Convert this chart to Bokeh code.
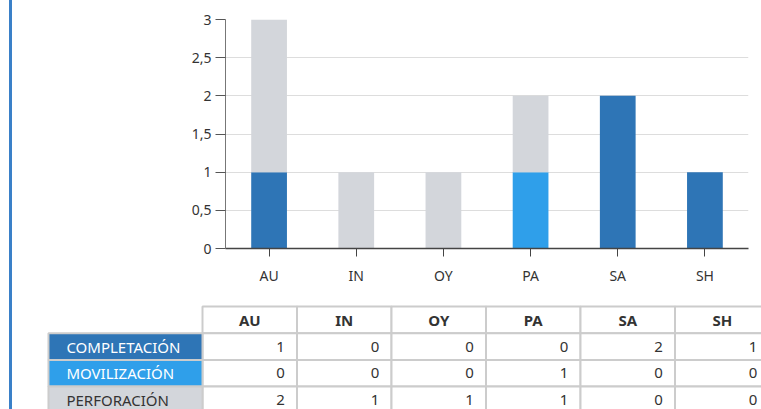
from bokeh.plotting import figure
from bokeh.layouts import row
from bokeh.models import FixedTicker, Range1d, FactorRange, ColumnDataSource, CustomJSTickFormatter, Spacer, Div
from bokeh.core.properties import value
from bokeh.embed import file_html
from bokeh.resources import INLINE

# ---- data ----
categories = ["AU", "IN", "OY", "PA", "SA", "SH"]
series_names = ["COMPLETACIÓN", "MOVILIZACIÓN", "PERFORACIÓN"]
completacion = [1, 0, 0, 0, 2, 1]
movilizacion = [0, 0, 0, 1, 0, 0]
perforacion = [2, 1, 1, 1, 0, 0]
y_ticks = [0, 0.5, 1, 1.5, 2, 2.5, 3]

colors = ["#2e75b6", "#2f9fea", "#d3d6db"]
label_text_colors = ["#ffffff", "#ffffff", "#333333"]
FONT = "Noto Sans"
GRID = "#cccccc"
EDGE = "#3a80c8"

series_values = [completacion, movilizacion, perforacion]

W = 749      # width of each figure
H1 = 295     # chart height
H2 = 114     # table height


def edge_bar(h):
    return Div(text="", width=3, height=h, margin=0,
               styles={"background-color": EDGE})


# ---- chart ----
src = ColumnDataSource(dict(cat=categories, c=completacion, m=movilizacion, p=perforacion))

p1 = figure(x_range=FactorRange(*categories), y_range=Range1d(0, 3),
            width=W, height=H1, output_backend="svg", toolbar_location=None,
            min_border_left=213, min_border_right=13, min_border_top=19, min_border_bottom=47)
p1.vbar_stack(["c", "m", "p"], x="cat", width=0.41, source=src,
              fill_color=colors, line_color=None)

p1.yaxis.ticker = FixedTicker(ticks=y_ticks)
p1.yaxis.formatter = CustomJSTickFormatter(code="return tick.toString().replace('.', ',');")
for ax in (p1.xaxis, p1.yaxis):
    ax.major_label_text_font = FONT
    ax.major_label_text_font_size = "14px"
    ax.major_label_text_color = "#333333"
    ax.minor_tick_line_color = None
    ax.major_tick_in = 0
p1.yaxis.axis_line_color = "#777777"
p1.yaxis.major_tick_line_color = "#555555"
p1.yaxis.major_tick_out = 10
p1.yaxis.major_label_standoff = 4
p1.xaxis.axis_line_color = "#444444"
p1.xaxis.axis_line_width = 1.5
p1.xaxis.major_tick_line_color = "#444444"
p1.xaxis.major_tick_out = 8
p1.xaxis.major_label_standoff = 9
p1.xgrid.grid_line_color = None
p1.ygrid.grid_line_color = "#dddddd"
p1.outline_line_color = None

# ---- table ----
U = 94.5   # px per column
R = 26.7   # px per row
x0 = -190 / U
y0 = -1 - 11 / R
p2 = figure(x_range=Range1d(x0, x0 + W / U), y_range=Range1d(y0 + H2 / R, y0),
            width=W, height=H2, output_backend="svg", toolbar_location=None,
            min_border=0)
p2.axis.visible = False
p2.grid.grid_line_color = None
p2.outline_line_color = None

ncat = len(categories)
idx = list(range(ncat))
p2.quad(left=idx, right=[i + 1 for i in idx], top=[-1] * ncat, bottom=[0] * ncat,
        fill_color="white", line_color=GRID, line_width=2)
bl, br, bt, bb = [], [], [], []
vx, vy, vt = [], [], []
for r, vals in enumerate(series_values):
    for c, v in enumerate(vals):
        bl.append(c); br.append(c + 1); bt.append(r); bb.append(r + 1)
        vx.append(c + 1 - 0.13); vy.append(r + 0.5); vt.append(str(v))
p2.quad(left=bl, right=br, top=bt, bottom=bb, fill_color="white", line_color=GRID, line_width=2)
nser = len(series_names)
LW = 1.63
p2.quad(left=[-LW] * nser, right=[0] * nser, top=list(range(nser)),
        bottom=[r + 1 for r in range(nser)], fill_color=colors, line_color=GRID, line_width=2)

p2.text(x=[i + 0.5 for i in idx], y=[-0.5] * ncat, text=categories,
        text_font=value(FONT), text_font_size="15px", text_font_style="bold",
        text_color="#333333", text_align="center", text_baseline="middle")
p2.text(x=vx, y=vy, text=vt, text_font=value(FONT), text_font_size="15px",
        text_color="#333333", text_align="right", text_baseline="middle")
p2.text(x=[-LW + 0.19] * nser, y=[r + 0.5 for r in range(nser)], text=series_names,
        text_font=value(FONT), text_font_size="15px", text_color=label_text_colors,
        text_align="left", text_baseline="middle")

top_row = row(Spacer(width=9, height=H1), edge_bar(H1), p1)
bottom_row = row(Spacer(width=9, height=H2), edge_bar(H2), p2)

open("out.html", "w").write(file_html([top_row, bottom_row], INLINE))
